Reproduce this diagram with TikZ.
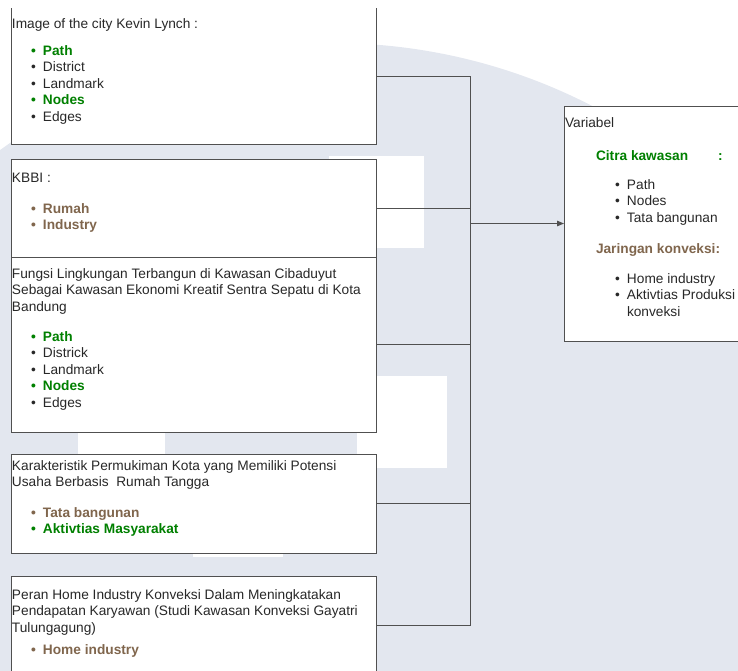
\documentclass[tikz,border=0pt]{standalone}
\usepackage{fontspec}
\setmainfont{Liberation Sans}
\usetikzlibrary{arrows.meta}
\definecolor{wm}{RGB}{227,231,239}
\definecolor{ln}{RGB}{80,80,80}
\definecolor{grn}{RGB}{0,128,0}
\definecolor{brn}{RGB}{128,102,77}
\definecolor{txt}{RGB}{40,40,40}
\newcommand\mybul{\llap{\textbullet\hspace{7pt}}}
\begin{document}
\begin{tikzpicture}[x=1pt,y=-1pt,
  every node/.style={font=\fontsize{13.7}{16.5}\selectfont, inner sep=0pt, outer sep=0pt, text=txt},
  tx/.style={anchor=base west},
  gb/.style={anchor=base west, font=\fontsize{13.7}{16.5}\selectfont\bfseries, text=grn},
  bb/.style={anchor=base west, font=\fontsize{13.7}{16.5}\selectfont\bfseries, text=brn},
  box/.style={draw=ln, fill=white, line width=1pt, anchor=north west, minimum width=365pt},
  conn/.style={draw=ln, line width=1pt}]
\useasboundingbox (0,0) rectangle (738,670);
\clip (0,0) rectangle (738,670);
% watermark
\fill[wm] (332,611) circle[radius=568pt];
\fill[white] (329,156) rectangle (424,248);
\fill[white] (78,376) rectangle (165,468);
\fill[white] (357,376) rectangle (447,468);
\fill[white] (193,548) rectangle (283,557);
% boxes
\node[anchor=north west, fill=white, minimum width=365pt, minimum height=136pt] (b1) at (11,8) {};
\draw[conn] (b1.north west) -- (b1.south west) -- (b1.south east) -- (b1.north east);
\node[box, minimum height=98pt] (b2) at (11,159) {};
\node[box, minimum height=175pt] (b3) at (11,257) {};
\node[box, minimum height=99pt] (b4) at (11,454) {};
\node[box, minimum height=98pt] (b5) at (11,576) {};
\node[box, minimum width=181pt, minimum height=235pt] (var) at (564,106) {};
% connectors
\coordinate (bus) at (470,223.5);
\draw[conn] (b1.east) -| (bus);
\draw[conn] (b5.east) -| (bus);
\draw[conn] (b2.east) -- (b2.east -| bus);
\draw[conn] (b3.east) -- (b3.east -| bus);
\draw[conn] (b4.east) -- (b4.east -| bus);
\draw[conn, -{Triangle[length=7pt,width=5.5pt]}] (bus) -- (var.west);
% box 1 text
\node[tx] (t1) at (12,28) {Image of the city Kevin Lynch :};
\node[gb] (t1a) at (43,55) {\mybul Path};
\node[tx] (t1b) at (43,71.5) {\mybul District};
\node[tx] (t1c) at (43,88) {\mybul Landmark};
\node[gb] (t1d) at (43,104.5) {\mybul Nodes};
\node[tx] (t1e) at (43,121) {\mybul Edges};
% box 2 text
\node[tx] (t2) at (12,182) {KBBI :};
\node[bb] (t2a) at (43,213) {\mybul Rumah};
\node[bb] (t2b) at (43,229.5) {\mybul Industry};
% box 3 text
\node[tx] (t3) at (12,278) {Fungsi Lingkungan Terbangun di Kawasan Cibaduyut};
\node[tx] (t3x) at (12,294.5) {Sebagai Kawasan Ekonomi Kreatif Sentra Sepatu di Kota};
\node[tx] (t3y) at (12,311) {Bandung};
\node[gb] (t3a) at (43,341) {\mybul Path};
\node[tx] (t3b) at (43,357.5) {\mybul Districk};
\node[tx] (t3c) at (43,374) {\mybul Landmark};
\node[gb] (t3d) at (43,390.5) {\mybul Nodes};
\node[tx] (t3e) at (43,407) {\mybul Edges};
% box 4 text
\node[tx] (t4) at (12,470) {Karakteristik Permukiman Kota yang Memiliki Potensi};
\node[tx] (t4x) at (12,486.5) {Usaha Berbasis\ \ Rumah Tangga};
\node[bb] (t4a) at (43,517) {\mybul Tata bangunan};
\node[gb] (t4b) at (43,533.5) {\mybul Aktivtias Masyarakat};
% box 5 text
\node[tx] (t5) at (12,599) {Peran Home Industry Konveksi Dalam Meningkatakan};
\node[tx] (t5x) at (12,615.5) {Pendapatan Karyawan (Studi Kawasan Konveksi Gayatri};
\node[tx] (t5y) at (12,632) {Tulungagung)};
\node[bb] (t5a) at (43,654) {\mybul Home industry};
% variabel text
\node[tx] (v0) at (565,127) {Variabel};
\node[gb] (v1) at (596,160) {Citra kawasan};
\node[gb] (v1c) at (718,160) {:};
\node[tx] (v1a) at (627,189) {\mybul Path};
\node[tx] (v1b) at (627,205.5) {\mybul Nodes};
\node[tx] (v1d) at (627,222) {\mybul Tata bangunan};
\node[bb] (v2) at (596,253) {Jaringan konveksi:};
\node[tx] (v2a) at (627,283) {\mybul Home industry};
\node[tx] (v2b) at (627,299.5) {\mybul Aktivtias Produksi};
\node[tx] (v2c) at (627,316) {konveksi};
\end{tikzpicture}
\end{document}
